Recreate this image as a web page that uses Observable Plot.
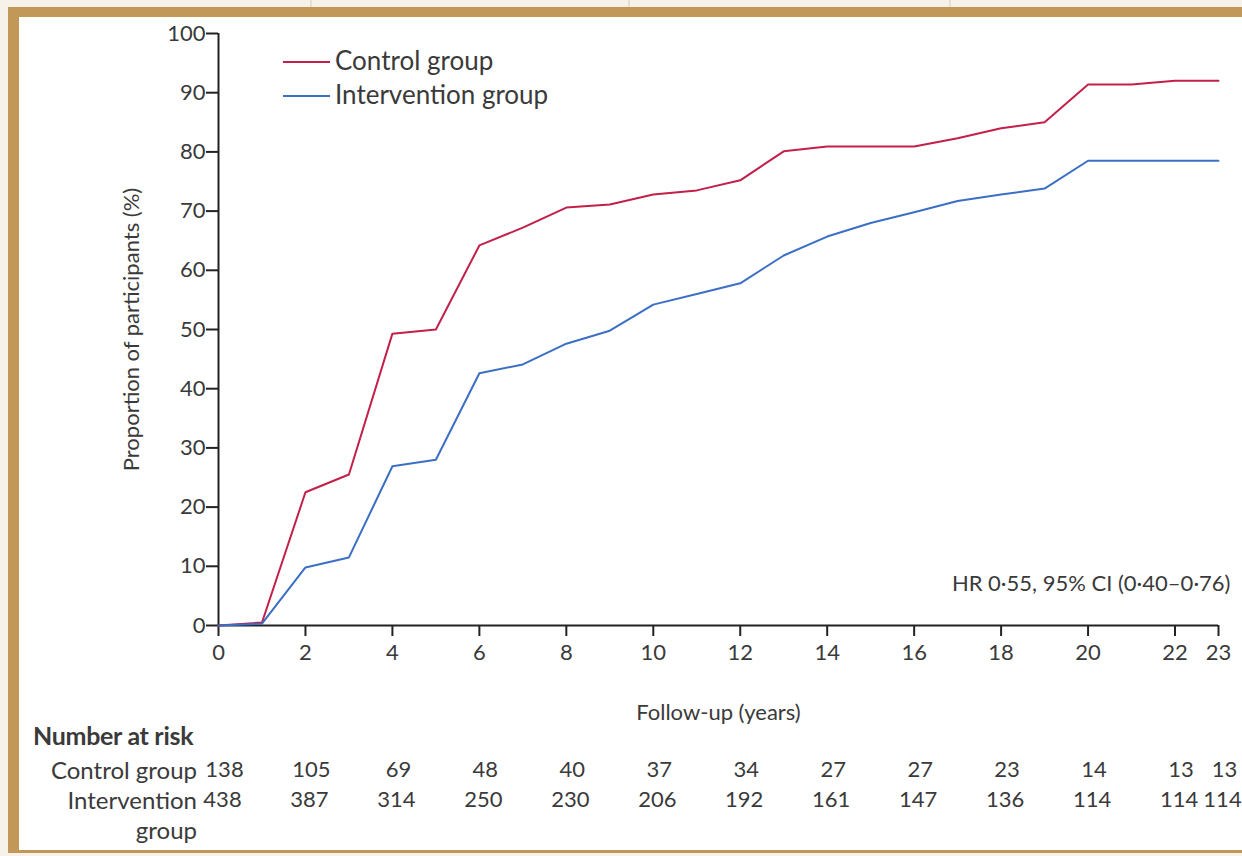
<!DOCTYPE html>
<html>
<head>
<meta charset="utf-8">
<script src="https://cdn.jsdelivr.net/npm/d3@7"></script>
<script src="https://cdn.jsdelivr.net/npm/@observablehq/plot@0.6"></script>
<style>
  html, body { margin: 0; padding: 0; }
  body { width: 1242px; height: 856px; background: #f6f2ea; position: relative; overflow: hidden; font-family: Lato, "Open Sans", sans-serif; }
  .vline { position: absolute; top: 0; width: 2px; height: 7px; background: #e6dfd2; }
  #panel { position: absolute; left: 8px; top: 7px; width: 1234px; height: 846px; background: #fff;
           border-left: 11px solid #c29858; border-top: 10px solid #c29858; border-bottom: 3px solid #c29858; box-sizing: border-box; }
  #chart { position: absolute; left: 0; top: 0; }
  .lab { position: absolute; color: #3a3a3a; font-size: 24px; line-height: 1; white-space: nowrap; }
  .sw { position: absolute; height: 2px; width: 47px; }
</style>
</head>
<body>
<div class="vline" style="left:310px"></div>
<div class="vline" style="left:628px"></div>
<div class="vline" style="left:949px"></div>
<div id="panel"></div>
<div id="chart"></div>
<div class="sw" style="left:283px;top:61px;background:#c2204a"></div>
<div class="lab" style="left:335px;top:47px;font-size:26px">Control group</div>
<div class="sw" style="left:283px;top:95px;background:#3b6fc4"></div>
<div class="lab" style="left:335px;top:81px;font-size:26px">Intervention group</div>
<div class="lab" style="left:33px;top:723px;font-weight:bold;font-size:25px;letter-spacing:-0.3px">Number at risk</div>
<div class="lab" style="right:1045px;top:758px;text-align:right">Control group</div>
<div class="lab" style="right:1045px;top:788px;text-align:right">Intervention</div>
<div class="lab" style="right:1045px;top:818px;text-align:right">group</div>
<script>
const years = [0,1,2,3,4,5,6,7,8,9,10,11,12,13,14,15,16,17,18,19,20,21,22,23];
const control = [0,0.5,22.5,25.5,49.3,50,64.2,67.2,70.6,71.1,72.8,73.5,75.2,80.1,80.9,80.9,80.9,82.3,84,85,91.4,91.4,92,92];
const intervention = [0,0.3,9.8,11.5,26.9,28,42.6,44.1,47.6,49.8,54.2,56,57.8,62.5,65.7,68,69.8,71.7,72.8,73.8,78.5,78.5,78.5,78.5];
const xTicks = [0,2,4,6,8,10,12,14,16,18,20,22,23];
const yTicks = [0,10,20,30,40,50,60,70,80,90,100];
const riskYears = [0,2,4,6,8,10,12,14,16,18,20,22,23];
const riskControl = [138,105,69,48,40,37,34,27,27,23,14,13,13];
const riskIntervention = [438,387,314,250,230,206,192,161,147,136,114,114,114];
const hrText = "HR 0·55, 95% CI (0·40–0·76)";

const series = [
  ...years.map((t, i) => ({t, v: control[i], g: "Control group"})),
  ...years.map((t, i) => ({t, v: intervention[i], g: "Intervention group"}))
];
const risk = riskYears.map((t, i) => ({t, c: riskControl[i], n: riskIntervention[i]}));

const textColor = "#3a3a3a";
const chart = Plot.plot({
  width: 1242,
  height: 856,
  marginLeft: 218,
  marginRight: 24,
  marginTop: 33,
  marginBottom: 231,
  style: {background: "transparent", fontFamily: "Lato, 'Open Sans', sans-serif", color: textColor, overflow: "visible"},
  x: {domain: [0, 23]},
  y: {domain: [0, 100]},
  color: {domain: ["Control group", "Intervention group"], range: ["#c2204a", "#3b6fc4"]},
  marks: [
    Plot.axisY({ticks: yTicks, tickSize: 12, tickPadding: 1, fontSize: 22, stroke: "#222", strokeWidth: 2,
      label: "Proportion of participants (%)", labelAnchor: "center", labelArrow: "none", labelOffset: 95}),
    Plot.axisX({ticks: xTicks, tickSize: 11, tickPadding: 8, fontSize: 22, stroke: "#222", strokeWidth: 2,
      label: "Follow-up (years)", labelAnchor: "center", labelArrow: "none", labelOffset: 94}),
    Plot.ruleY([0], {stroke: "#222", strokeWidth: 2}),
    Plot.ruleX([0], {stroke: "#222", strokeWidth: 2}),
    Plot.line(series, {x: "t", y: "v", stroke: "g", strokeWidth: 2}),
    Plot.text([hrText], {frameAnchor: "bottom-right", dx: 12, dy: -35, textAnchor: "end", fontSize: 22, fill: textColor}),
    Plot.text(risk, {x: "t", text: "c", frameAnchor: "bottom", dx: 6, dy: 151, fontSize: 22, fill: textColor}),
    Plot.text(risk, {x: "t", text: "n", frameAnchor: "bottom", dx: 4, dy: 181, fontSize: 22, fill: textColor})
  ]
});
document.getElementById("chart").appendChild(chart);
</script>
</body>
</html>
